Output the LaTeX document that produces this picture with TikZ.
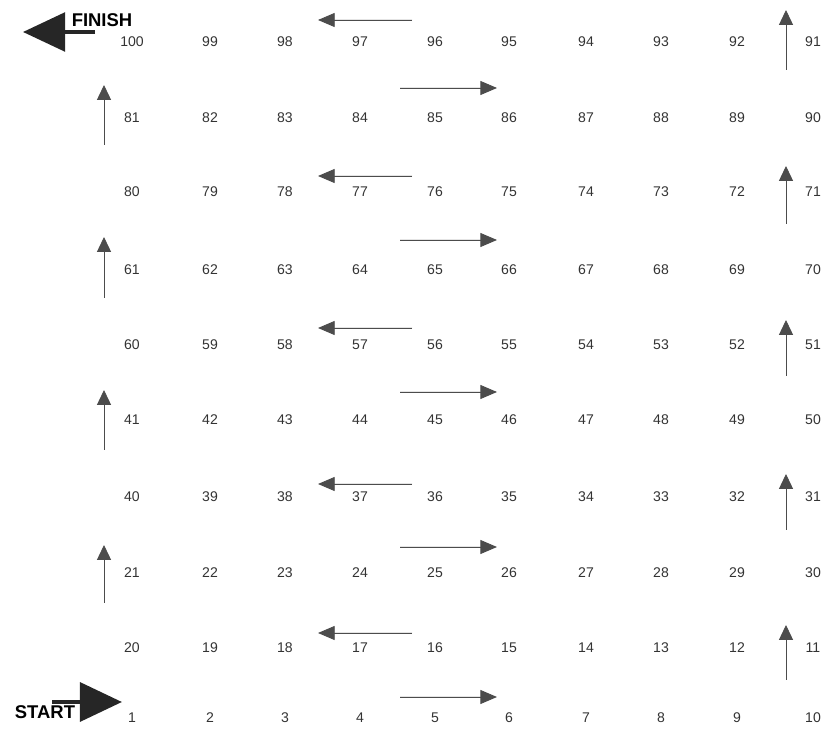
\documentclass[tikz,border=0pt]{standalone}
\usepackage{fontspec}
\setmainfont{Liberation Sans}
\usetikzlibrary{arrows.meta, positioning}

\begin{document}
\begin{tikzpicture}[x=0.02cm, y=-0.02cm,
    cell/.style={font=\fontsize{8}{9}\selectfont, text=black!80, inner sep=0pt},
    label/.style={font=\fontsize{10.5}{12}\selectfont\bfseries, inner sep=0pt},
    runarrow/.style={-{Triangle[length=9.5pt, width=8pt]}, draw=black!70, fill=black!85, line width=0.5pt},
    climb/.style={-{Triangle[length=8.5pt, width=8pt]}, draw=black!70, fill=black!85, line width=0.5pt},
    bigarrow/.style={-{Triangle[length=24pt, width=22pt]}, draw=black!85, fill=black!85}
]
    \useasboundingbox (0,0) rectangle (829,732);

    % Board: rows run back and forth
    \foreach \r/\y in {0/718,1/648,2/573,3/497,4/420,5/345,6/270,7/192,8/118,9/42} {
        \foreach \c/\x in {0/132,1/210,2/285,3/360,4/435,5/509,6/586,7/661,8/737,9/813} {
            \pgfmathtruncatemacro\n{mod(\r,2)==1 ? 10*\r+10-\c : 10*\r+\c+1}
            \node[cell] (c\n) at (\x,\y) {\n};
        }
    }

    % Start and finish
    \coordinate (sa) at (52,702);
    \coordinate (sb) at (122,702);
    \draw[bigarrow, line width=2.8pt] (sa) -- (sb);
    \node[label] (start) at (45,712) {START};

    \node[label] (finish) at (102,20) {FINISH};
    \coordinate (fa) at (95,32);
    \coordinate (fb) at (23,32);
    \draw[bigarrow, line width=2.2pt] (fa) -- (fb);

    % Rows going right
    \foreach \r/\y in {0/697,2/547,4/392,6/240,8/88} {
        \coordinate (ra\r) at (400,\y);
        \coordinate (rb\r) at (497,\y);
        \draw[runarrow] (ra\r) -- (rb\r);
    }

    % Rows going left
    \foreach \r/\y in {1/633,3/484,5/328,7/176,9/20} {
        \coordinate (la\r) at (412,\y);
        \coordinate (lb\r) at (318,\y);
        \draw[runarrow] (la\r) -- (lb\r);
    }

    % Up at the right end
    \foreach \r/\ya/\yb in {1/680/625,3/530/474,5/376/320,7/224/166,9/70/10} {
        \coordinate (ua\r) at (786,\ya);
        \coordinate (ub\r) at (786,\yb);
        \draw[climb] (ua\r) -- (ub\r);
    }

    % Up at the left end
    \foreach \r/\ya/\yb in {2/603/545,4/450/390,6/298/237,8/145/85} {
        \coordinate (va\r) at (104,\ya);
        \coordinate (vb\r) at (104,\yb);
        \draw[climb] (va\r) -- (vb\r);
    }
\end{tikzpicture}
\end{document}
